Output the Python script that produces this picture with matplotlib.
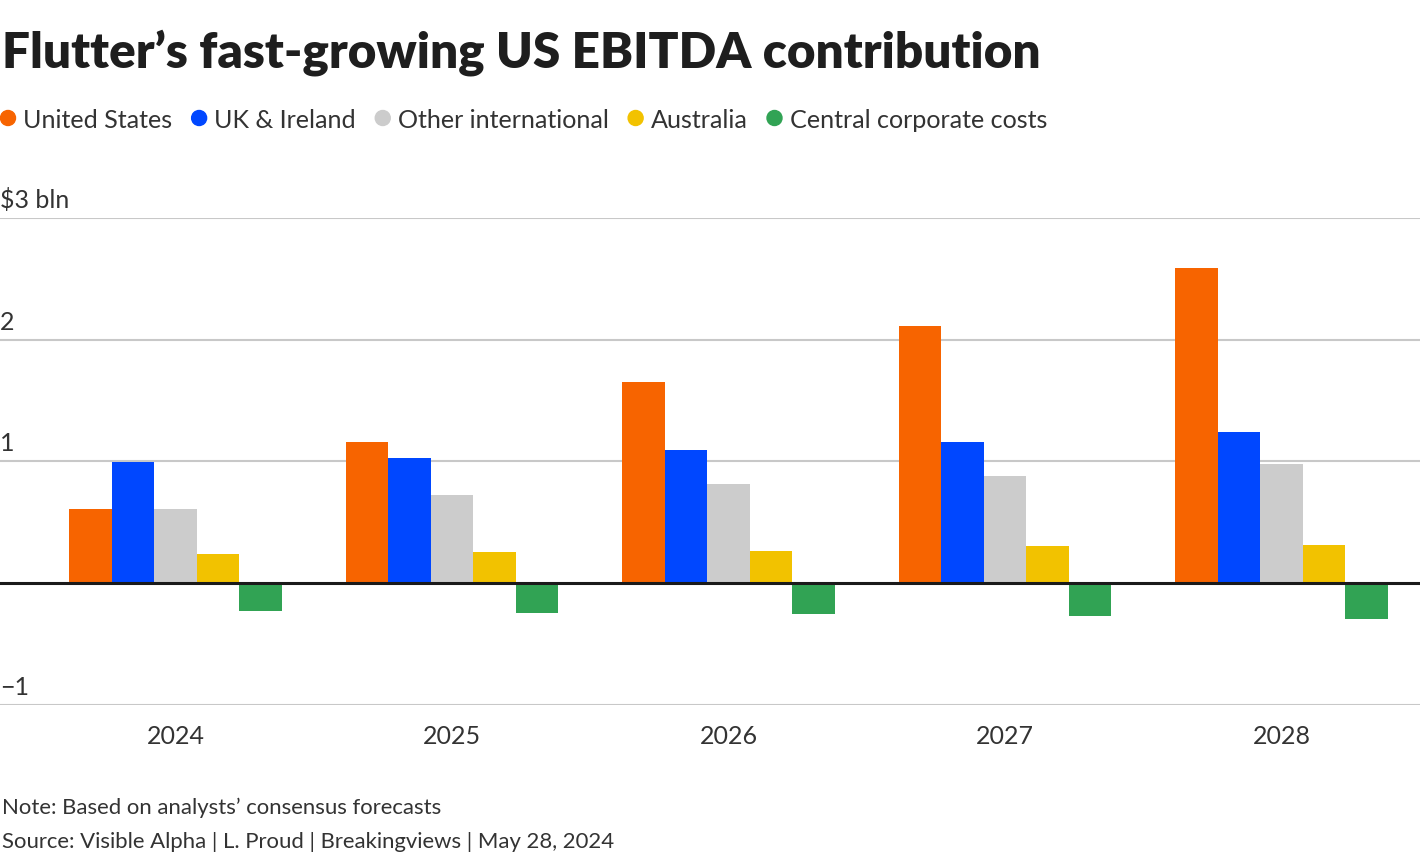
import numpy as np
import matplotlib
matplotlib.use("Agg")
import matplotlib.pyplot as plt
from matplotlib import transforms
from matplotlib.patches import Circle

plt.rcParams['font.family'] = ['Lato', 'DejaVu Sans']

years = ["2024", "2025", "2026", "2027", "2028"]
series = ["United States", "UK & Ireland", "Other international", "Australia",
          "Central corporate costs"]
us = [0.61, 1.16, 1.65, 2.11, 2.59]
uk = [0.99, 1.03, 1.09, 1.16, 1.24]
other = [0.61, 0.72, 0.81, 0.88, 0.98]
australia = [0.24, 0.25, 0.26, 0.30, 0.31]
central = [-0.23, -0.25, -0.26, -0.27, -0.30]
colors = ["#F76400", "#0047FF", "#CCCCCC", "#F2C200", "#31A354"]
yticks = [3, 2, 1, 0, -1]
ytick_labels = ["$3 bln", "2", "1", "", "\u22121"]

W, H = 1420, 862
fig = plt.figure(figsize=(W / 100, H / 100), dpi=100)
ax = fig.add_axes([0, 156.5 / H, 1, 486.5 / H])

x = np.arange(len(years))
width = 0.154
for i, (vals, col) in enumerate(zip([us, uk, other, australia, central], colors)):
    ax.bar(x + (i - 2) * width, vals, width, color=col, zorder=3, linewidth=0)

ax.set_xlim(-0.635, 4.501)
ax.set_ylim(-1, 3)
for s in ax.spines.values():
    s.set_visible(False)
ax.set_yticks([])
for v in [3, 2, 1, -1]:
    ax.axhline(v, color="#C8C8C8", lw=1.5, zorder=1)
ax.axhline(0, color="#1a1a1a", lw=2.2, zorder=4)

trans = transforms.blended_transform_factory(ax.transAxes, ax.transData)
for v, lab in zip(yticks, ytick_labels):
    if lab:
        ax.annotate(lab, xy=(0, v), xycoords=trans, xytext=(0, 5),
                    textcoords="offset points", ha="left", va="bottom",
                    fontsize=18, color="#333333")

ax.set_xticks(x)
ax.set_xticklabels(years, fontsize=18, color="#333333")
ax.tick_params(axis="x", length=0, pad=14)

fig.text(2 / W, 1 - 68 / H, "Flutter\u2019s fast-growing US EBITDA contribution",
         fontsize=35.6, fontweight="heavy", color="#1e1e1e", va="baseline")

# legend: dot + label, laid out left to right
renderer = fig.canvas.get_renderer()
xpos = 8
for name, col in zip(series, colors):
    fig.patches.append(Circle((xpos / 100, (H - 119) / 100), 0.075,
                              transform=fig.dpi_scale_trans, color=col))
    t = fig.text((xpos + 15) / W, 1 - 119 / H, name, fontsize=18.1,
                 color="#333333", va="center_baseline", ha="left")
    xpos = t.get_window_extent(renderer).x1 + 27

fig.text(2 / W, 1 - 808 / H, "Note: Based on analysts\u2019 consensus forecasts",
         fontsize=15.9, color="#333333", va="center")
fig.text(2 / W, 1 - 842 / H, "Source: Visible Alpha | L. Proud | Breakingviews | May 28, 2024",
         fontsize=15.9, color="#333333", va="center")

fig.savefig("out.png", dpi=100)
